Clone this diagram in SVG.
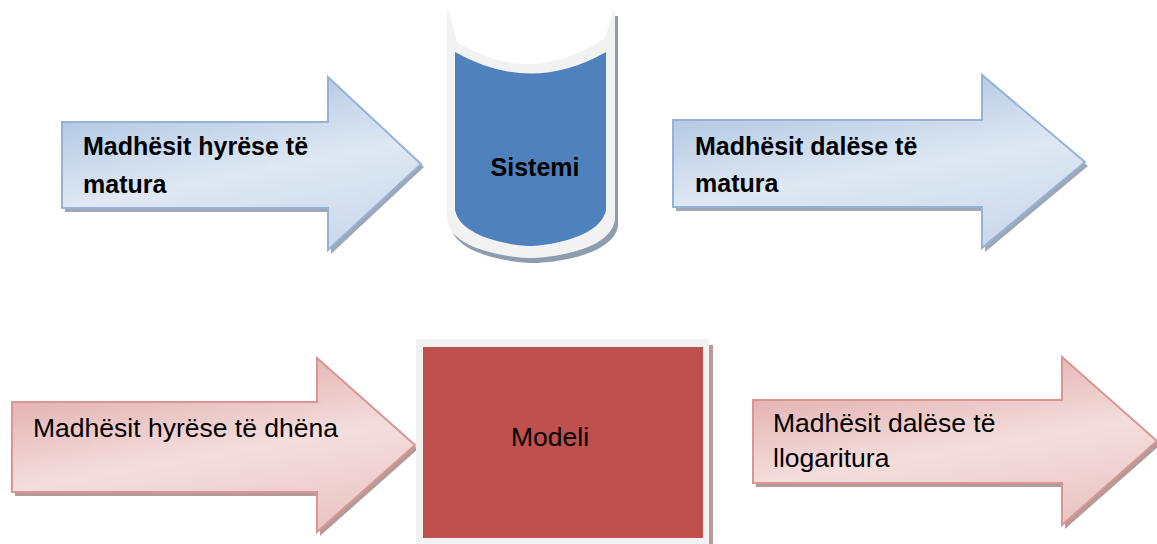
<svg xmlns="http://www.w3.org/2000/svg" width="1157" height="544" viewBox="0 0 1157 544">
  <defs>
    <linearGradient id="gBlue" x1="0.3" y1="0" x2="0.7" y2="1">
      <stop offset="0" stop-color="#a9c1df"/>
      <stop offset="0.55" stop-color="#dfe8f3"/>
      <stop offset="1" stop-color="#cbd9eb"/>
    </linearGradient>
    <linearGradient id="gPink" x1="0.3" y1="0" x2="0.7" y2="1">
      <stop offset="0" stop-color="#e0a9a8"/>
      <stop offset="0.55" stop-color="#f3dedd"/>
      <stop offset="1" stop-color="#eac6c5"/>
    </linearGradient>
  </defs>
  <style>
    .shB { fill: #9ea7b3; }
    .shP { fill: #b59a9a; }
    .arB { fill: url(#gBlue); stroke: #95b3d7; stroke-width: 2; stroke-linejoin: miter; }
    .arP { fill: url(#gPink); stroke: #d99694; stroke-width: 2; stroke-linejoin: miter; }
    .tb { font-family: "Liberation Sans", Arial, sans-serif; font-weight: bold; font-size: 25px; fill: #000; }
    .tr { font-family: "Liberation Sans", Arial, sans-serif; font-size: 26.5px; fill: #000; }
  </style>

  <g id="connectors">
    <g id="arrow-in-measured">
      <path class="shB" d="M65,126 L331,126 L331,81 L424,167 L331,254 L331,212 L65,212 Z"/>
      <path class="arB" d="M62,122 L328,122 L328,77 L421,164 L328,250 L328,208 L62,208 Z"/>
      <text class="tb" x="83" y="155">Madhësit hyrëse të</text>
      <text class="tb" x="83" y="193">matura</text>
    </g>
    <g id="arrow-out-measured">
      <path class="shB" d="M676,124 L985,124 L985,79 L1088,166 L985,252 L985,211 L676,211 Z"/>
      <path class="arB" d="M673,120 L982,120 L982,75 L1085,162 L982,248 L982,207 L673,207 Z"/>
      <text class="tb" x="695" y="155">Madhësit dalëse të</text>
      <text class="tb" x="695" y="192">matura</text>
    </g>
    <g id="arrow-in-given">
      <path class="shP" d="M15,406 L320,406 L320,362 L418,449 L320,536 L320,496 L15,496 Z"/>
      <path class="arP" d="M12,402 L317,402 L317,358 L415,445 L317,532 L317,492 L12,492 Z"/>
      <text class="tr" x="33" y="437">Madhësit hyrëse të dhëna</text>
    </g>
    <g id="arrow-out-computed">
      <path class="shP" d="M756,404 L1065,404 L1065,361 L1160,445 L1065,529 L1065,487 L756,487 Z"/>
      <path class="arP" d="M753,400 L1062,400 L1062,357 L1157,441 L1062,525 L1062,483 L753,483 Z"/>
      <text class="tr" x="773" y="432">Madhësit dalëse të</text>
      <text class="tr" x="773" y="467">llogaritura</text>
    </g>
  </g>

  <g id="node-sistemi">
    <path fill="#8f9caf" d="M451,16 L618,16 L618,226 C613,257 548,263 534,263 C520,263 455,257 451,226 Z"/>
    <path fill="#f2f2f2" d="M447,10 L615,10 L615,220 C610,252 545,258 531,258 C517,258 452,252 447,220 Z"/>
    <path fill="#ffffff" d="M448,8 L457,42 Q531,88 605,38 L614,8 Z"/>
    <path fill="#4f81bd" d="M455,52 Q531,95 606,52 L606,210 C600,240 540,246 531,246 C520,246 461,240 455,210 Z"/>
    <text class="tb" x="535" y="176" text-anchor="middle">Sistemi</text>
  </g>

  <g id="node-modeli">
    <rect x="709" y="345" width="4" height="199" fill="#b99a9b"/>
    <rect x="416" y="339" width="293" height="210" fill="#f2f2f2"/>
    <rect x="423" y="347" width="280" height="191" fill="#c0504d"/>
    <text class="tr" x="511" y="446">Modeli</text>
  </g>
</svg>
